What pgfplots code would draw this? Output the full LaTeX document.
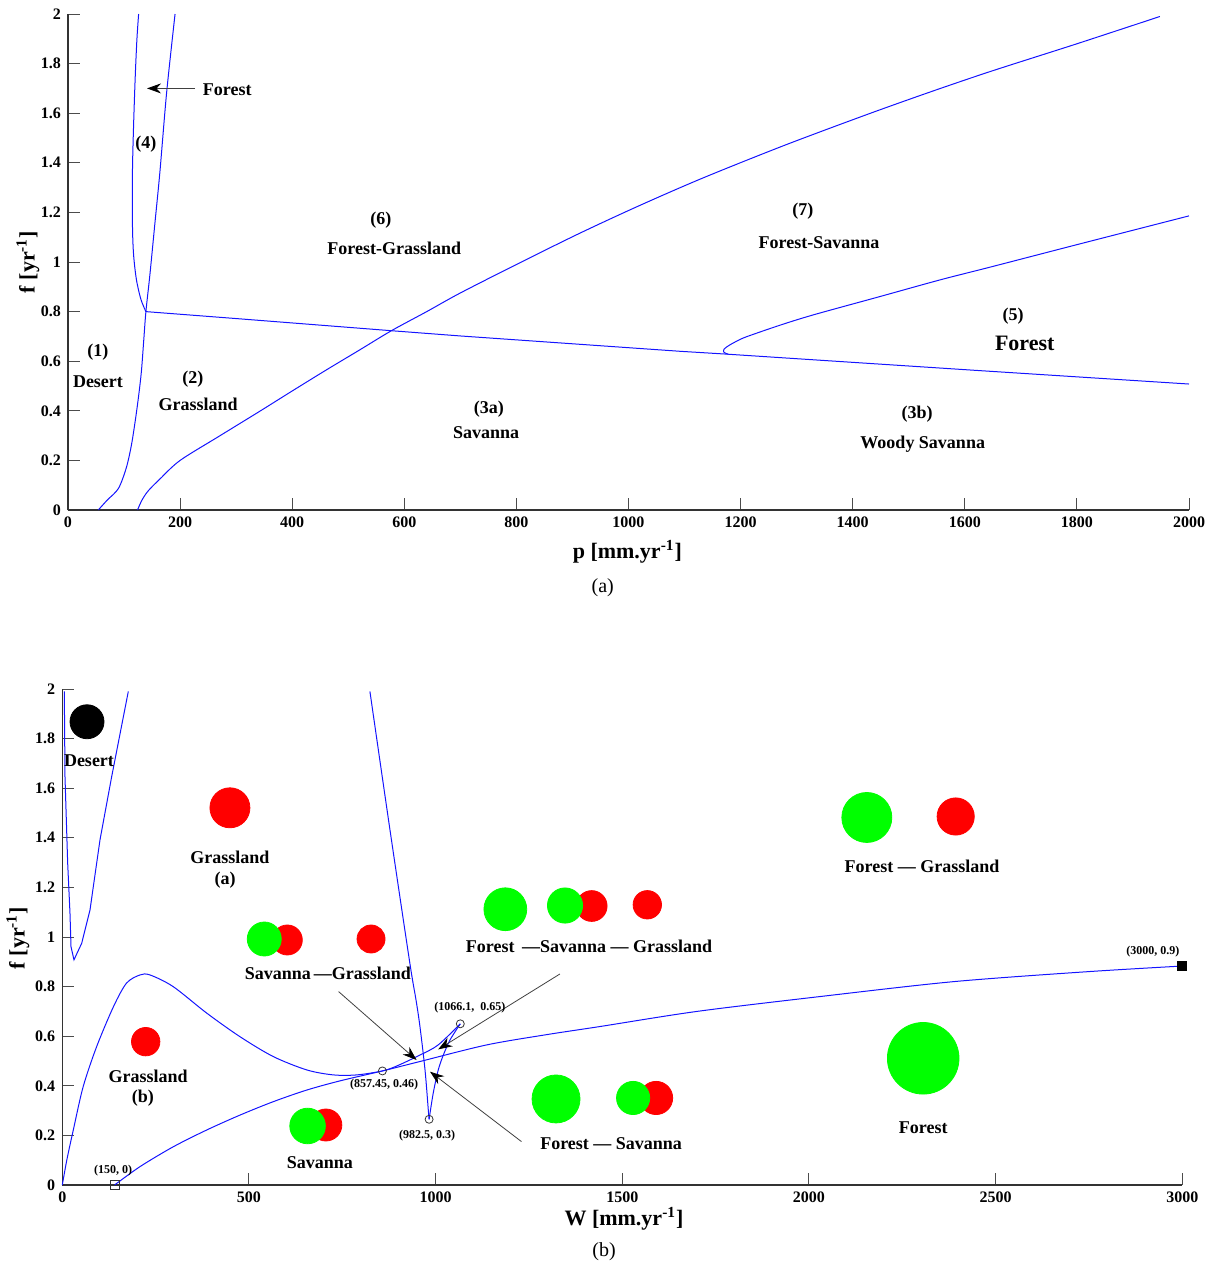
\documentclass[border=0pt]{standalone}
\usepackage{pgfplots}
\pgfplotsset{compat=1.18}
\usepackage{fontspec}
\setmainfont{Liberation Serif}
\usetikzlibrary{arrows.meta}
\definecolor{bgreen}{RGB}{0,255,0}
\definecolor{bred}{RGB}{255,0,0}
\definecolor{bblue}{RGB}{20,20,255}
\newcommand{\bub}[4]{\addplot[only marks, mark=*, mark size=#3, color=#4] coordinates {(#1,#2)};}
\tikzset{
  lab/.style={font=\bfseries\fontsize{9}{10.8}\selectfont},
  ann/.style={font=\bfseries\fontsize{6}{7}\selectfont},
  arr/.style={black!75, line width=0.4pt, -{Stealth[length=7pt,width=5pt,black]}},
}
\pgfplotsset{
  myax/.style={
    scale only axis,
    axis lines*=left,
    axis line style={black!80, line width=0.6pt},
    tick align=inside,
    major tick length=6pt,
    every tick/.style={black!70, line width=0.5pt},
    tick label style={font=\bfseries\fontsize{8}{9.6}\selectfont},
    /pgf/number format/assume math mode=true,
    /pgf/number format/1000 sep={},
    scaled ticks=false,
    label style={font=\bfseries\fontsize{11}{13}\selectfont},
    clip=false,
    ymin=0, ymax=2,
    ytick={0,0.2,0.4,0.6,0.8,1,1.2,1.4,1.6,1.8,2},
  },
  bl/.style={bblue, line width=0.5pt, smooth, tension=0.5},
  bls/.style={bblue, line width=0.5pt},
}
\begin{document}
\begin{tikzpicture}
\useasboundingbox (0,0) rectangle (609pt,-633pt);
% ---------------- panel (a)
\begin{axis}[myax, at={(34pt,-255pt)}, anchor=south west, width=560.5pt, height=248pt,
  xmin=0, xmax=2000, xtick={0,200,400,600,800,1000,1200,1400,1600,1800,2000},
  xlabel={p [mm.yr\textsuperscript{-1}]}, ylabel={f [yr\textsuperscript{-1}]},
  xlabel style={at={(axis description cs:0.499,-0.085)}, anchor=center},
  ylabel style={at={(axis description cs:-0.0357,0.5)}, anchor=center}]
\addplot[bl] coordinates {(54,0)(70,0.04)(90,0.087)(104,0.17)(113,0.26)(120,0.36)(126,0.46)(131,0.56)(135,0.68)(139,0.80)(146,0.946)(155,1.155)(164,1.364)(176,1.684)(191,2.0)};
\addplot[bl] coordinates {(139,0.80)(130,0.85)(122,0.93)(117,1.03)(115,1.15)(115,1.364)(117,1.55)(120,1.75)(123,1.9)(126,2.0)};
\addplot[bls] coordinates {(139,0.800)(300,0.772)(577,0.723)(699,0.702)(1092,0.640)(1172,0.629)(1627,0.562)(2000,0.508)};
\addplot[bl] coordinates {(124,0)(132,0.04)(143,0.077)(164,0.125)(200,0.200)(270,0.298)(342,0.398)(400,0.48)(461,0.565)(520,0.645)(577,0.723)(640,0.80)(699,0.874)(800,0.99)(913,1.116)(1020,1.228)(1134,1.340)(1280,1.472)(1427,1.596)(1540,1.687)(1648,1.770)(1800,1.880)(1948,1.99)};
\addplot[bl] coordinates {(1178,0.628)(1170,0.637)(1171,0.650)(1181,0.666)(1195,0.683)(1211,0.699)(1270,0.745)(1330,0.787)(1449,0.861)(1556,0.928)(1648,0.981)(1800,1.07)(2000,1.186)};
\node[lab] at (axis cs:284,1.694) {Forest};
\draw[arr] (axis cs:227,1.70) -- (axis cs:141,1.70);
\node[lab] at (axis cs:139,1.476) {(4)};
\node[lab] at (axis cs:558,1.17) {(6)};
\node[lab] at (axis cs:582,1.057) {Forest-Grassland};
\node[lab] at (axis cs:1311,1.206) {(7)};
\node[lab] at (axis cs:1340,1.077) {Forest-Savanna};
\node[lab] at (axis cs:1686,0.783) {(5)};
\node[font=\bfseries\fontsize{11}{13}\selectfont] at (axis cs:1707,0.670) {Forest};
\node[lab] at (axis cs:53.5,0.637) {(1)};
\node[lab] at (axis cs:53.5,0.516) {Desert};
\node[lab] at (axis cs:223,0.528) {(2)};
\node[lab] at (axis cs:232,0.428) {Grassland};
\node[lab] at (axis cs:751,0.407) {(3a)};
\node[lab] at (axis cs:746,0.311) {Savanna};
\node[lab] at (axis cs:1515,0.387) {(3b)};
\node[lab] at (axis cs:1525,0.266) {Woody Savanna};
\node[font=\fontsize{10}{12}\selectfont] at (axis description cs:0.477,-0.157) {(a)};
\end{axis}
% ---------------- panel (b)
\begin{axis}[myax, at={(31.15pt,-592.5pt)}, anchor=south west, width=560pt, height=248pt,
  xmin=0, xmax=3000, xtick={0,500,1000,1500,2000,2500,3000},
  xlabel={W [mm.yr\textsuperscript{-1}]}, ylabel={f [yr\textsuperscript{-1}]},
  xlabel style={at={(axis description cs:0.5015,-0.0685)}, anchor=center},
  ylabel style={at={(axis description cs:-0.0396,0.498)}, anchor=center}]
\addplot[bls] coordinates {(5.4,1.99)(7.2,1.647)(14.4,1.298)(20.6,1.096)(23.3,0.961)(31.3,0.908)(52,0.975)(74.2,1.109)(101,1.392)(132.3,1.647)(176.8,1.99)};
\addplot[bl] coordinates {(0,0)(12,0.1)(29.5,0.222)(56,0.397)(92,0.558)(137,0.719)(172,0.814)(208,0.847)(235,0.847)(297,0.80)(387,0.693)(476,0.598)(565,0.518)(655,0.464)(726,0.444)(789,0.444)(857.45,0.46)(896,0.48)(958,0.524)(1007,0.565)(1066.1,0.65)};
\addplot[bl] coordinates {(1066.1,0.65)(1038.6,0.585)(1020.6,0.524)(1007,0.464)(993.5,0.37)(982.5,0.265)};
\addplot[bl] coordinates {(824,1.99)(877.7,1.432)(931,0.894)(947.5,0.746)(958,0.639)(971.6,0.464)(980.5,0.30)(982.5,0.265)};
\addplot[bl] coordinates {(140,0)(208,0.074)(297,0.154)(387,0.222)(476,0.282)(565,0.336)(655,0.383)(744,0.42)(857.45,0.46)(958,0.498)(1137,0.565)(1300,0.607)(1440,0.639)(1700,0.70)(2030,0.76)(2387,0.82)(2744,0.86)(3000,0.883)};
\addplot[only marks, mark=o, mark size=2pt, black!80] coordinates {(857.45,0.46)(1066.1,0.65)(982.5,0.265)};
\addplot[only marks, mark=square, mark size=2.2pt, black!80] coordinates {(140,0)};
\addplot[only marks, mark=square*, mark size=2.3pt, black] coordinates {(3000,0.883)};
% bubbles
\bub{66.2}{1.868}{8.5pt}{black}
\bub{449}{1.521}{10pt}{bred}
\bub{602.7}{0.988}{7.5pt}{bred}
\bub{541}{0.992}{8.5pt}{bgreen}
\bub{827}{0.992}{7pt}{bred}
\bub{1186.7}{1.112}{10.7pt}{bgreen}
\bub{1418}{1.125}{7.7pt}{bred}
\bub{1346.6}{1.127}{8.8pt}{bgreen}
\bub{1567}{1.13}{7.1pt}{bred}
\bub{2155}{1.482}{12.5pt}{bgreen}
\bub{2393}{1.486}{9.3pt}{bred}
\bub{2306}{0.511}{17.9pt}{bgreen}
\bub{1322.5}{0.347}{12pt}{bgreen}
\bub{1590.5}{0.351}{8.3pt}{bred}
\bub{1529}{0.351}{8.3pt}{bgreen}
\bub{223.4}{0.578}{7.1pt}{bred}
\bub{706}{0.242}{8pt}{bred}
\bub{657}{0.238}{8.9pt}{bgreen}
% arrows
\draw[arr] (axis cs:740,0.78) -- (axis cs:949,0.504);
\draw[arr] (axis cs:1333,0.851) -- (axis cs:1007,0.547);
\draw[arr] (axis cs:1230,0.175) -- (axis cs:985,0.457);
% annotations
\node[ann] at (axis cs:136,0.06) {(150, 0)};
\node[ann] at (axis cs:862,0.403) {(857.45, 0.46)};
\node[ann] at (axis cs:977,0.198) {(982.5, 0.3)};
\node[ann] at (axis cs:1092,0.714) {(1066.1,\ \ 0.65)};
\node[ann] at (axis cs:2921,0.94) {(3000, 0.9)};
% labels
\node[lab] at (axis cs:71.5,1.71) {Desert};
\node[lab] at (axis cs:449,1.323) {Grassland};
\node[lab] at (axis cs:436,1.23) {(a)};
\node[lab] at (axis cs:711.7,0.855) {Savanna\,—Grassland};
\node[lab] at (axis cs:1411,0.964) {Forest \,—Savanna — Grassland};
\node[lab] at (axis cs:2303,1.283) {Forest — Grassland};
\node[lab] at (axis cs:229.6,0.44) {Grassland};
\node[lab] at (axis cs:216,0.351) {(b)};
\node[lab] at (axis cs:690,0.089) {Savanna};
\node[lab] at (axis cs:1470,0.165) {Forest — Savanna};
\node[lab] at (axis cs:2306,0.23) {Forest};
\node[font=\fontsize{10}{12}\selectfont] at (axis description cs:0.4837,-0.135) {(b)};
\end{axis}
\end{tikzpicture}
\end{document}
